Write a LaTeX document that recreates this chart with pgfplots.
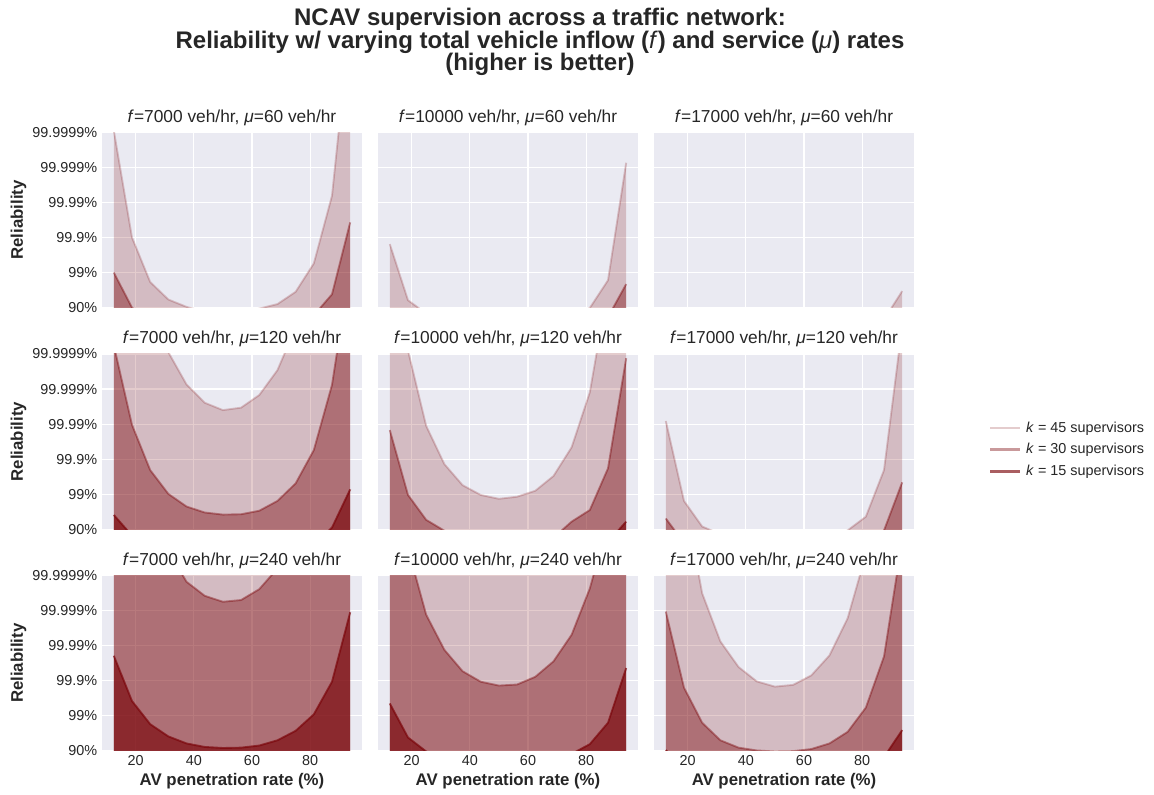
\documentclass[border=0pt]{standalone}
\usepackage{fontspec}
\setmainfont{Liberation Sans}
\usepackage{pgfplots}
\usepackage{pgfplotstable}
\pgfplotsset{compat=1.18}

\definecolor{bgcol}{RGB}{234,234,242}
\definecolor{rcol}{RGB}{120,0,5}
\definecolor{txt}{RGB}{38,38,38}

% x = AV penetration rate (%); k45/k30/k15 = reliability as number of nines, -log10(1-R)
% f=7000, mu=60
\pgfplotstableread{
x k45 k30 k15
12.5 6.05 2.00 0.85
18.75 3.00 1.00 0.30
25 1.73 0.60 0.12
31.25 1.23 0.40 0.06
37.5 1.02 0.30 0.04
43.75 0.88 0.25 0.03
50 0.82 0.22 0.03
56.25 0.84 0.23 0.03
62.5 0.97 0.27 0.03
68.75 1.10 0.35 0.04
75 1.45 0.50 0.07
81.25 2.26 0.78 0.15
87.5 4.19 1.38 0.40
93.75 9.20 3.43 0.95
}\tabA
% f=10000, mu=60
\pgfplotstableread{
x k45 k30 k15
12.5 2.81 0.88 0.35
18.75 1.21 0.40 0.12
25 0.83 0.25 0.06
31.25 0.62 0.18 0.04
37.5 0.52 0.14 0.03
43.75 0.46 0.12 0.02
50 0.43 0.11 0.02
56.25 0.44 0.11 0.02
62.5 0.49 0.13 0.03
68.75 0.60 0.17 0.04
75 0.75 0.25 0.06
81.25 0.99 0.40 0.12
87.5 1.78 0.73 0.25
93.75 5.13 1.67 0.70
}\tabB
% f=17000, mu=60
\pgfplotstableread{
x k45 k30 k15
12.5 0.85 0.30 0.05
18.75 0.40 0.10 0.02
25 0.25 0.05 0.01
31.25 0.18 0.03 0.01
37.5 0.14 0.02 0.01
43.75 0.12 0.02 0.01
50 0.11 0.02 0.01
56.25 0.11 0.02 0.01
62.5 0.13 0.02 0.01
68.75 0.17 0.03 0.01
75 0.25 0.05 0.01
81.25 0.40 0.10 0.02
87.5 0.66 0.22 0.04
93.75 1.47 0.60 0.12
}\tabC
% f=7000, mu=120
\pgfplotstableread{
x k45 k30 k15
12.5 8.80 6.25 1.41
18.75 7.90 3.98 0.82
25 7.00 2.69 0.50
31.25 6.05 2.01 0.35
37.5 5.13 1.65 0.28
43.75 4.61 1.48 0.24
50 4.40 1.42 0.22
56.25 4.47 1.43 0.22
62.5 4.83 1.53 0.25
68.75 5.54 1.81 0.30
75 6.75 2.31 0.40
81.25 7.90 3.26 0.55
87.5 9.00 5.12 1.05
93.75 10.0 8.50 2.14
}\tabD
% f=10000, mu=120
\pgfplotstableread{
x k45 k30 k15
12.5 8.30 3.83 0.90
18.75 6.10 1.98 0.45
25 3.95 1.27 0.30
31.25 2.86 0.96 0.22
37.5 2.26 0.72 0.18
43.75 1.98 0.62 0.16
50 1.87 0.58 0.15
56.25 1.93 0.60 0.15
62.5 2.10 0.66 0.17
68.75 2.52 0.76 0.20
75 3.34 1.22 0.26
81.25 4.91 1.55 0.38
87.5 7.90 2.74 0.64
93.75 9.00 5.88 1.22
}\tabE
% f=17000, mu=120
\pgfplotstableread{
x k45 k30 k15
12.5 4.09 1.31 0.55
18.75 1.81 0.61 0.20
25 1.08 0.45 0.11
31.25 0.86 0.33 0.08
37.5 0.55 0.27 0.06
43.75 0.48 0.24 0.05
50 0.45 0.22 0.05
56.25 0.46 0.23 0.05
62.5 0.52 0.26 0.06
68.75 0.65 0.32 0.07
75 0.97 0.42 0.10
81.25 1.36 0.60 0.16
87.5 2.69 0.97 0.30
93.75 6.80 2.34 0.85
}\tabF
% f=7000, mu=240
\pgfplotstableread{
x k45 k30 k15
12.5 12.0 9.80 3.71
18.75 11.0 8.90 2.42
25 10.0 7.90 1.76
31.25 9.0 6.70 1.41
37.5 8.2 5.82 1.21
43.75 7.6 5.42 1.11
50 7.3 5.25 1.08
56.25 7.4 5.30 1.09
62.5 7.8 5.61 1.15
68.75 8.5 6.20 1.30
75 9.5 7.00 1.57
81.25 10.5 7.90 2.04
87.5 11.5 8.90 2.97
93.75 12.5 10.1 4.95
}\tabG
% f=10000, mu=240
\pgfplotstableread{
x k45 k30 k15
12.5 11.0 8.70 2.35
18.75 10.0 6.77 1.38
25 9.0 4.88 0.98
31.25 8.2 3.88 0.75
37.5 7.6 3.27 0.62
43.75 7.2 2.97 0.55
50 7.0 2.86 0.52
56.25 7.1 2.89 0.53
62.5 7.4 3.11 0.58
68.75 7.9 3.55 0.68
75 8.6 4.31 0.91
81.25 9.5 5.63 1.19
87.5 10.5 7.50 1.80
93.75 11.5 9.00 3.36
}\tabH
% f=17000, mu=240
\pgfplotstableread{
x k45 k30 k15
12.5 10.5 4.97 1.02
18.75 8.30 2.80 0.55
25 5.49 1.80 0.36
31.25 4.12 1.30 0.27
37.5 3.39 1.09 0.22
43.75 2.98 1.01 0.19
50 2.83 0.98 0.18
56.25 2.88 0.99 0.18
62.5 3.15 1.05 0.20
68.75 3.72 1.21 0.24
75 4.78 1.54 0.30
81.25 6.60 2.23 0.42
87.5 8.00 3.69 0.82
93.75 9.50 7.00 1.59
}\tabI

% fill under each k curve down to 0 (well below the axis), then its line
\newcommand{\bands}[1]{%
  \addplot[forget plot, draw=none, fill=rcol, fill opacity=0.2] table[x=x,y=k45]{#1} |- (12.5,0) -- cycle;
  \addplot[rcol, draw opacity=0.2, line width=1.4pt, no markers] table[x=x,y=k45]{#1};
  \addplot[forget plot, draw=none, fill=rcol, fill opacity=0.4] table[x=x,y=k30]{#1} |- (12.5,0) -- cycle;
  \addplot[rcol, draw opacity=0.4, line width=1.4pt, no markers] table[x=x,y=k30]{#1};
  \addplot[forget plot, draw=none, fill=rcol, fill opacity=0.63] table[x=x,y=k15]{#1} |- (12.5,0) -- cycle;
  \addplot[rcol, draw opacity=0.63, line width=1.4pt, no markers] table[x=x,y=k15]{#1};
}

\pgfplotsset{
  panel/.style={
    scale only axis, width=195pt, height=131.5pt, anchor=north west,
    xmin=8.4375, xmax=97.8125, ymin=1, ymax=6,
    axis background/.style={fill=bgcol},
    axis line style={draw=none},
    major tick style={draw=none},
    grid=major, grid style={white, line width=0.9pt},
    xtick={20,40,60,80}, ytick={1,2,3,4,5,6},
    xticklabels={}, yticklabels={},
    tick label style={font=\fontsize{10.8}{12}\selectfont, text=txt},
    title style={font=\fontsize{13}{15}\selectfont, text=txt, yshift=-4.5pt},
  },
  leftcol/.style={
    yticklabels={90\%,99\%,99.9\%,99.99\%,99.999\%,99.9999\%},
    ylabel={Reliability},
    every axis y label/.style={at={([xshift=-62.6pt]rel axis cs:0,0.5)}, rotate=90, anchor=center,
      font=\fontsize{12.6}{14}\selectfont\bfseries, text=txt},
  },
  bottomrow/.style={
    xticklabels={20,40,60,80},
    xlabel={AV penetration rate (\%)},
    every axis x label/.style={at={([yshift=-22.7pt]rel axis cs:0.5,0)}, anchor=center,
      font=\fontsize{12.6}{14}\selectfont\bfseries, text=txt},
  },
}

\begin{document}
\begin{tikzpicture}
\useasboundingbox (0,0) rectangle (865.5pt,595.5pt);

\node[align=center, font=\fontsize{18}{17}\selectfont\bfseries, text=txt] at (405pt,564pt)
  {NCAV supervision across a traffic network:\\
   Reliability w/ varying total vehicle inflow (\textmd{\textit{f}}) and service (\textmd{\textit{μ}}) rates\\
   (higher is better)};

% row 1: mu = 60
\begin{axis}[panel, leftcol, at={(76.5pt,496.3pt)}, title={\textit{f}=7000 veh/hr, \textit{μ}=60 veh/hr}]
\bands{\tabA}
\end{axis}
\begin{axis}[panel, at={(283.5pt,496.3pt)}, title={\textit{f}=10000 veh/hr, \textit{μ}=60 veh/hr}]
\bands{\tabB}
\end{axis}
\begin{axis}[panel, at={(490.5pt,496.3pt)}, title={\textit{f}=17000 veh/hr, \textit{μ}=60 veh/hr}]
\bands{\tabC}
\end{axis}

% row 2: mu = 120
\begin{axis}[panel, leftcol, at={(76.5pt,330pt)}, title={\textit{f}=7000 veh/hr, \textit{μ}=120 veh/hr}]
\bands{\tabD}
\end{axis}
\begin{axis}[panel, at={(283.5pt,330pt)}, title={\textit{f}=10000 veh/hr, \textit{μ}=120 veh/hr}]
\bands{\tabE}
\end{axis}
\begin{axis}[panel, at={(490.5pt,330pt)}, title={\textit{f}=17000 veh/hr, \textit{μ}=120 veh/hr},
  legend entries={\textit{k} = 45 supervisors, \textit{k} = 30 supervisors, \textit{k} = 15 supervisors},
  legend cell align=left,
  legend image code/.code={\draw[#1, line width=1.8pt] (0pt,0pt) -- (22pt,0pt);},
  legend style={at={(1.288,0.455)}, anchor=west, draw=none, fill=none, inner sep=0pt,
    font=\fontsize{10.8}{12}\selectfont, text=txt, row sep=3pt,
    nodes={inner xsep=4pt, inner ysep=2pt}}]
\bands{\tabF}
\end{axis}

% row 3: mu = 240
\begin{axis}[panel, leftcol, bottomrow, at={(76.5pt,163.9pt)}, title={\textit{f}=7000 veh/hr, \textit{μ}=240 veh/hr}]
\bands{\tabG}
\end{axis}
\begin{axis}[panel, bottomrow, at={(283.5pt,163.9pt)}, title={\textit{f}=10000 veh/hr, \textit{μ}=240 veh/hr}]
\bands{\tabH}
\end{axis}
\begin{axis}[panel, bottomrow, at={(490.5pt,163.9pt)}, title={\textit{f}=17000 veh/hr, \textit{μ}=240 veh/hr}]
\bands{\tabI}
\end{axis}
\end{tikzpicture}
\end{document}
